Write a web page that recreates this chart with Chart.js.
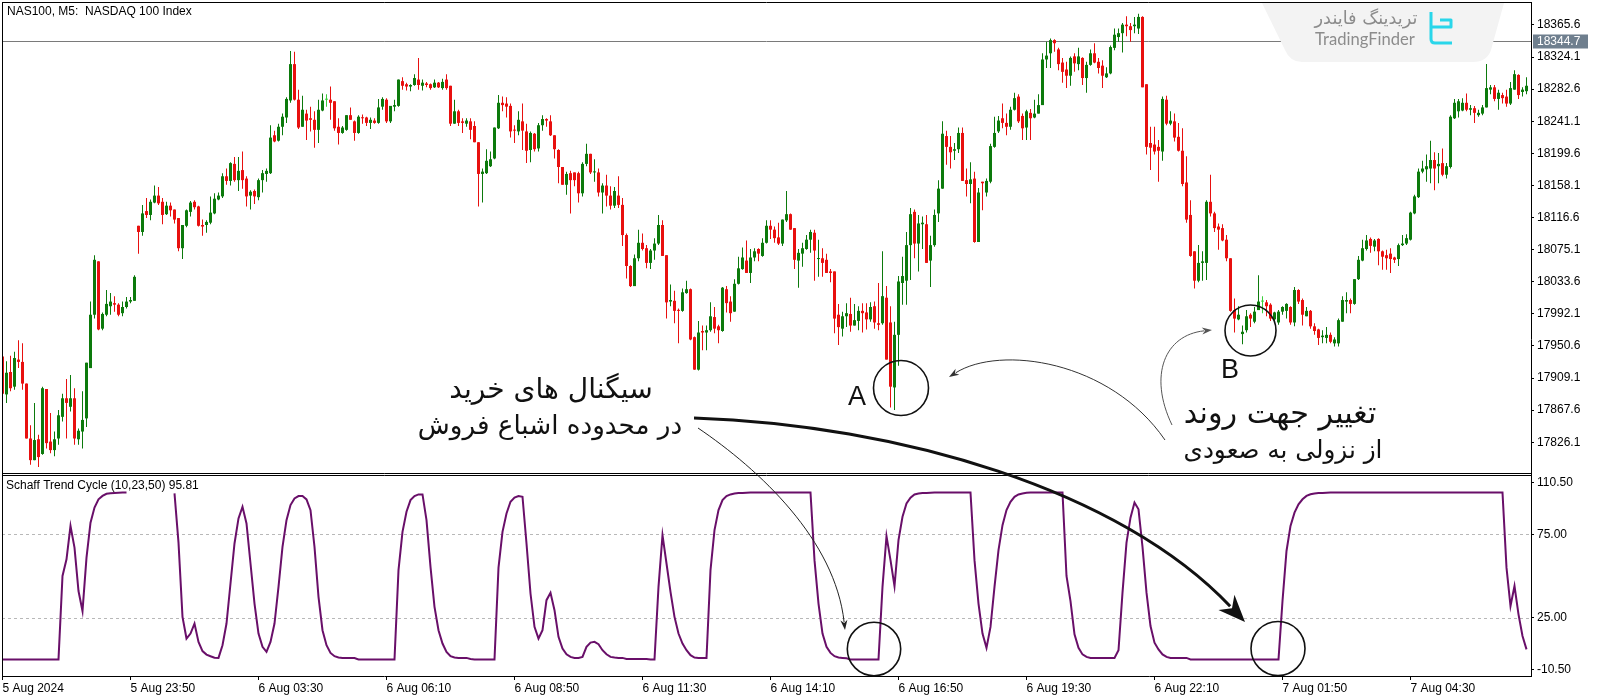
<!DOCTYPE html>
<html>
<head>
<meta charset="utf-8">
<script src="https://cdn.jsdelivr.net/npm/chart.js@4.4.1/dist/chart.umd.min.js"></script>
<style>
  html, body { margin: 0; padding: 0; background: #fff; }
  #wrap { position: relative; width: 1600px; height: 700px; }
</style>
</head>
<body>
<div id="wrap"><canvas id="chart" width="1600" height="700"></canvas></div>
<script>
// NAS100 M5 candles, one entry per bar
const opens = [
  17937,17888,17917,17898,17933,17930,17902,17831,17803,17830,
  17811,17895,17827,17816,17831,17859,17883,17872,17883,17830,
  17840,17857,17922,17991,18060,17973,17991,18002,18006,18004,
  17993,18001,18008,18009,18106,18098,18125,18120,18136,18145,
  18137,18121,18132,18127,18116,18077,18106,18124,18137,18131,
  18107,18107,18110,18122,18140,18144,18170,18164,18186,18165,
  18178,18167,18145,18151,18143,18165,18173,18174,18223,18216,
  18234,18246,18268,18315,18269,18234,18251,18245,18243,18230,
  18255,18269,18269,18267,18234,18226,18230,18249,18241,18226,
  18246,18246,18239,18242,18239,18260,18269,18241,18260,18261,
  18293,18289,18286,18288,18295,18287,18290,18289,18285,18291,
  18284,18295,18287,18238,18254,18241,18238,18241,18235,18214,
  18173,18174,18183,18193,18232,18265,18264,18261,18230,18228,
  18241,18228,18204,18225,18206,18236,18244,18241,18223,18204,
  18182,18159,18174,18175,18174,18148,18186,18199,18175,18175,
  18149,18158,18145,18132,18145,18133,18094,18054,18028,18064,
  18084,18077,18058,18074,18083,18107,18068,18008,18009,17997,
  17996,18019,18024,17962,17920,17970,17968,17971,17988,17976,
  17970,18024,18008,17995,18031,18050,18061,18045,18065,18076,
  18067,18084,18106,18101,18091,18083,18113,18121,18103,18061,
  18070,18076,18088,18097,18063,18064,18062,18047,18047,17991,
  17973,17989,17992,17977,17983,17996,17994,17985,18002,17980,
  17980,18013,17981,17897,17965,18032,18035,18081,18124,18083,
  18108,18108,18061,18081,18122,18154,18222,18208,18203,18205,
  18226,18165,18160,18167,18085,18163,18149,18163,18208,18228,
  18245,18239,18234,18256,18273,18248,18233,18252,18246,18251,
  18262,18321,18329,18346,18334,18317,18308,18300,18325,18315,
  18323,18297,18314,18329,18318,18313,18298,18303,18336,18350,
  18355,18366,18364,18364,18361,18376,18289,18213,18211,18208,
  18202,18269,18238,18241,18221,18203,18162,18120,18073,18035,
  18058,18058,18137,18122,18105,18103,18088,18064,17997,17985,
  17966,17971,17991,17982,17997,18008,18007,18004,17985,17981,
  17995,17996,18001,17981,18023,18010,17989,17996,17976,17972,
  17962,17961,17965,17954,17954,17982,18008,18010,18005,18037,
  18061,18076,18089,18079,18089,18073,18068,18070,18065,18063,
  18081,18083,18088,18122,18143,18176,18179,18180,18191,18183,
  18187,18172,18182,18245,18254,18255,18265,18256,18258,18249,
  18251,18259,18282,18285,18270,18275,18273,18264,18282,18301,
  18279,18280
];
const highs = [
  17938,17931,17938,17943,17958,17954,17902,17848,17877,17836,
  17898,17895,17864,17840,17868,17889,17908,17913,17896,17844,
  17892,17929,18008,18068,18060,17994,18023,18019,18015,18006,
  18008,18014,18014,18042,18106,18133,18142,18140,18158,18156,
  18142,18137,18136,18127,18116,18107,18127,18138,18139,18132,
  18114,18113,18144,18148,18149,18174,18180,18188,18195,18195,
  18202,18170,18152,18153,18167,18178,18180,18236,18229,18238,
  18251,18272,18332,18331,18282,18274,18256,18260,18254,18269,
  18277,18276,18286,18267,18245,18235,18249,18259,18242,18249,
  18250,18247,18246,18245,18270,18272,18271,18261,18269,18295,
  18298,18291,18289,18302,18323,18295,18292,18290,18295,18292,
  18296,18302,18287,18269,18256,18245,18245,18245,18241,18214,
  18180,18205,18202,18233,18275,18273,18272,18264,18236,18254,
  18264,18238,18228,18226,18239,18249,18245,18249,18223,18205,
  18182,18176,18177,18175,18176,18188,18212,18199,18192,18180,
  18161,18172,18157,18156,18170,18142,18096,18055,18069,18101,
  18096,18081,18076,18090,18120,18113,18068,18030,18022,17999,
  18025,18035,18025,17963,17983,17977,17977,18007,18001,17978,
  18027,18028,18015,18037,18066,18078,18087,18076,18077,18077,
  18090,18113,18113,18105,18110,18114,18151,18122,18103,18076,
  18084,18094,18101,18101,18088,18077,18070,18050,18047,18005,
  17995,18006,18013,18005,18002,18006,18006,18007,18008,18032,
  18073,18028,18002,17982,18041,18066,18098,18129,18127,18120,
  18118,18120,18093,18127,18165,18241,18229,18222,18213,18233,
  18233,18180,18188,18176,18155,18163,18167,18212,18247,18248,
  18264,18251,18260,18278,18276,18251,18256,18257,18269,18276,
  18329,18344,18348,18347,18336,18323,18318,18325,18329,18336,
  18324,18318,18334,18342,18323,18320,18311,18339,18361,18361,
  18368,18377,18368,18376,18380,18377,18289,18234,18234,18217,
  18273,18274,18254,18251,18239,18232,18196,18139,18073,18081,
  18073,18139,18172,18124,18109,18108,18094,18064,18012,18002,
  17977,17997,17993,18001,18042,18015,18010,18006,17995,17997,
  18002,18006,18002,18027,18024,18012,18001,17997,17980,17973,
  17971,17975,17968,17962,17986,18015,18020,18012,18037,18067,
  18088,18094,18091,18089,18090,18074,18075,18077,18066,18083,
  18094,18095,18124,18146,18180,18190,18198,18216,18201,18200,
  18206,18187,18249,18270,18270,18271,18277,18262,18261,18256,
  18262,18315,18288,18288,18282,18278,18282,18292,18307,18302,
  18285,18298
];
const lows = [
  17887,17877,17892,17894,17922,17894,17831,17797,17803,17794,
  17810,17818,17812,17808,17823,17853,17831,17866,17823,17823,
  17818,17846,17922,17986,17971,17971,17989,17991,17995,17989,
  17989,17999,18006,18009,18070,18093,18116,18113,18135,18133,
  18108,18120,18118,18109,18073,18063,18104,18118,18127,18105,
  18093,18097,18108,18121,18139,18142,18159,18158,18163,18151,
  18154,18131,18127,18134,18139,18149,18163,18173,18214,18215,
  18223,18239,18265,18268,18231,18234,18217,18228,18207,18213,
  18254,18260,18243,18229,18211,18225,18229,18243,18216,18225,
  18238,18235,18231,18238,18238,18256,18239,18239,18254,18260,
  18282,18281,18280,18287,18282,18281,18285,18282,18284,18284,
  18282,18282,18235,18238,18235,18226,18234,18218,18214,18131,
  18136,18173,18182,18192,18231,18254,18246,18220,18213,18223,
  18204,18187,18188,18202,18202,18229,18234,18222,18193,18161,
  18159,18146,18122,18157,18136,18144,18183,18173,18163,18144,
  18122,18131,18127,18129,18129,18080,18038,18027,18028,18060,
  18074,18051,18050,18062,18081,18067,17986,18002,17980,17954,
  17995,18018,17958,17920,17919,17945,17945,17969,17967,17954,
  17969,17994,17982,17995,18030,18049,18045,18032,18060,18060,
  18066,18083,18089,18084,18081,18080,18111,18101,18050,18026,
  18053,18075,18071,18035,18040,18040,18045,18033,17967,17952,
  17963,17975,17969,17977,17971,17968,17972,17982,17973,17971,
  17978,17933,17871,17868,17925,18004,18004,18036,18064,18047,
  18076,18058,18027,18079,18111,18154,18185,18180,18191,18200,
  18164,18144,18135,18084,18085,18126,18144,18161,18207,18226,
  18232,18223,18230,18255,18239,18217,18217,18217,18245,18251,
  18262,18310,18310,18331,18307,18291,18284,18287,18305,18307,
  18288,18278,18313,18316,18303,18284,18297,18302,18333,18344,
  18330,18351,18344,18355,18354,18285,18198,18178,18198,18163,
  18190,18236,18236,18215,18202,18157,18110,18066,18025,18033,
  18035,18036,18118,18098,18075,18086,18060,17995,17968,17984,
  17953,17968,17975,17980,17997,17993,17989,17983,17983,17978,
  17991,17986,17978,17976,18005,17977,17989,17973,17965,17952,
  17954,17954,17954,17950,17950,17982,17993,17993,18004,18036,
  18060,18074,18071,18073,18055,18049,18049,18045,18058,18054,
  18080,18081,18087,18121,18142,18174,18163,18161,18152,18161,
  18170,18167,18180,18244,18246,18254,18254,18249,18239,18247,
  18249,18259,18276,18267,18256,18264,18260,18262,18282,18270,
  18273,18276
];
const closes = [
  17889,17916,17896,17935,17930,17902,17831,17803,17829,17807,
  17896,17825,17816,17830,17861,17883,17877,17883,17831,17841,
  17855,17929,17991,18062,17972,17992,18005,18008,18004,17991,
  18001,18008,18010,18040,18098,18122,18120,18137,18145,18135,
  18120,18132,18126,18114,18077,18107,18126,18136,18130,18106,
  18105,18111,18123,18141,18145,18170,18164,18187,18165,18177,
  18165,18144,18150,18144,18165,18174,18177,18220,18215,18234,
  18247,18270,18315,18269,18233,18256,18242,18243,18230,18256,
  18268,18269,18265,18232,18226,18233,18249,18243,18226,18247,
  18245,18239,18243,18239,18259,18270,18241,18261,18262,18295,
  18287,18286,18288,18297,18288,18291,18288,18284,18291,18285,
  18292,18284,18238,18254,18239,18239,18242,18230,18214,18173,
  18176,18190,18192,18233,18265,18262,18260,18228,18229,18243,
  18229,18203,18226,18205,18236,18244,18242,18223,18205,18182,
  18159,18173,18165,18165,18148,18186,18199,18175,18176,18149,
  18158,18145,18132,18151,18133,18094,18054,18028,18064,18084,
  18076,18058,18074,18083,18107,18067,18007,18010,17996,17996,
  18020,18024,17959,17920,17968,17968,17971,17989,17973,17971,
  18026,18006,17993,18031,18051,18065,18045,18065,18073,18070,
  18084,18106,18101,18090,18083,18114,18121,18101,18062,18071,
  18077,18088,18098,18074,18064,18058,18045,18045,17986,17975,
  17989,17993,17977,17984,17996,17993,17985,18001,17981,17978,
  18015,17933,17898,17965,18034,18041,18081,18121,18083,18109,
  18110,18058,18081,18120,18154,18225,18208,18201,18205,18226,
  18164,18160,18166,18085,18149,18161,18164,18209,18226,18242,
  18239,18234,18256,18271,18241,18232,18254,18245,18251,18262,
  18321,18326,18346,18342,18315,18305,18300,18323,18316,18325,
  18297,18314,18329,18317,18310,18300,18303,18337,18353,18355,
  18366,18364,18359,18366,18376,18285,18208,18207,18202,18203,
  18270,18238,18242,18220,18203,18160,18114,18067,18035,18058,
  18060,18137,18122,18103,18101,18087,18064,17996,17986,17991,
  17969,17989,17986,17995,18008,18008,18002,17986,17994,17995,
  18001,18005,17981,18023,18008,17991,17996,17976,17970,17961,
  17964,17965,17956,17959,17984,18010,18010,18005,18037,18062,
  18077,18087,18080,18087,18073,18066,18064,18063,18062,18081,
  18083,18090,18123,18144,18176,18180,18183,18191,18180,18186,
  18172,18183,18247,18265,18267,18265,18256,18258,18252,18252,
  18259,18284,18285,18270,18278,18271,18264,18284,18302,18275,
  18282,18287
];
// Schaff Trend Cycle (10,23,50), null where the line has a gap
const stc = [
  0,0,0,0,0,0,0,0,0,0,
  0,0,0,0,0,50,60,80,67,41,
  29,61,82,91,96,98,99.3,99.6,99.8,99.9,
  100,100,null,null,null,null,null,null,null,null,
  null,null,null,99.5,70,25.5,12.5,15.5,21.5,10.5,
  5,2.9,1.9,1,0.9,8.5,21.5,45.5,69.5,84.5,
  91.5,81.5,57.5,33.5,15.5,7.5,4.5,10.5,21.5,43.5,
  67.5,83.5,92.5,96.5,97.9,97.9,95.9,89.5,67.5,37.5,
  17.5,8.5,3.9,1.9,1.1,0.8,0.8,0.8,0.8,0,
  0,0,0,0,0,0,0,0,0,53.5,
  76.5,88.5,95.5,97.9,98.9,98.9,83.5,55.5,31.5,17.5,
  9.5,4.5,1.9,1.1,0.9,0.9,0.9,0.2,0,0,
  0,0,0,0,55,76.5,87.5,94.5,97,97.9,
  97.5,69.5,39.5,19.5,12.5,17.5,35.5,39.9,29.5,13.5,
  6.5,3.1,1.5,0.9,0.9,1.5,7.5,10.1,10.5,9.1,
  5.5,3.1,1.5,1.1,0.9,0.9,0.3,0.3,0.3,0.3,
  0.3,0.3,0,0,43.5,74.5,57.5,40.5,25.5,15.5,
  9.5,5.5,2.5,1.1,0.9,0.9,0.9,53.5,77.5,89.5,
  95.5,97.9,98.9,99.5,99.7,99.8,99.9,100,100,100,
  100,100,100,100,100,100,100,100,100,100,
  100,100,100,59.5,33.5,15.5,7.5,3.9,1.9,1.1,
  0.9,0.7,0,0,0,0,0,0,0,0,
  43.5,73.9,59.5,43.9,71.5,85.5,93.5,97,98.9,99.5,
  99.7,99.8,99.9,100,100,100,100,100,100,100,
  100,100,100,59.5,33.5,15.5,6.9,19.5,43.5,65.5,
  80.5,89.5,94.5,97.5,98.9,99.5,99.9,100,100,100,
  100,100,100,100,100,100,50,35,15,7,
  3,1.5,0.9,0.9,0.9,0.9,0.9,0.9,0.9,5.5,
  40,70,85,94,90,67.5,40,20,10,6,
  3,1.5,0.9,0.9,0.9,0.9,0.9,0,0,0,
  0,0,0,0,0,0,0,0,0,0,
  0,0,0,0,0,0,0,0,0,0,
  35,65,80,88,93,96,98,99,99.5,99.7,
  99.8,99.9,100,100,100,100,100,100,100,100,
  100,100,100,100,100,100,100,100,100,100,
  100,100,100,100,100,100,100,100,100,100,
  100,100,100,100,100,100,100,100,100,100,
  100,100,100,100,100,100,55,32,44,27,
  14,6
];

const priceTicks = [18365.6, 18324.1, 18282.6, 18241.1, 18199.6, 18158.1, 18116.6,
                    18075.1, 18033.6, 17992.1, 17950.6, 17909.1, 17867.6, 17826.1];
// MT5 pulls the two edge labels of the indicator scale inside the window
const stcTickValues = [105.9, 75, 25, -5.9];
const stcTickLabels = ['110.50', '75.00', '25.00', '-10.50'];
const stcLevels = [75, 25];
const timeTickBars = [0, 32, 64, 96, 128, 160, 192, 224, 256, 288, 320, 352];
const timeLabels = ['5 Aug 2024', '5 Aug 23:50', '6 Aug 03:30', '6 Aug 06:10', '6 Aug 08:50', '6 Aug 11:30',
                    '6 Aug 14:10', '6 Aug 16:50', '6 Aug 19:30', '6 Aug 22:10', '7 Aug 01:50', '7 Aug 04:30'];
const lastPrice = 18344.7;
const symbolTitle = 'NAS100, M5:  NASDAQ 100 Index';
const stcTitle = 'Schaff Trend Cycle (10,23,50) 95.81';

const UP = '#0c7a0c', DOWN = '#e8100f', DOJI = '#3ccf3c';
const FONT = "'Liberation Sans', Arial, sans-serif";
const FA_FONT = "'DejaVu Sans', sans-serif";

const candleColors = opens.map((o, i) => closes[i] > o ? UP : (closes[i] < o ? DOWN : DOJI));
const wickData = lows.map((l, i) => ({ x: i, y: [l, highs[i]] }));
const bodyData = opens.map((o, i) => ({ x: i, y: [o, closes[i]] }));
const stcData = stc.map((v, i) => ({ x: i, y: v }));

// font size that makes a string span the given width
function fitFont(ctx, text, family, width, base) {
  ctx.font = base + 'px ' + family;
  const w = ctx.measureText(text).width;
  return Math.round(base * width / w * 10) / 10;
}

function arrow(ctx, p, lw, headLen, headW, color) {
  const [p0, p1, p2, p3] = p;
  const ang = Math.atan2(p3[1] - p2[1], p3[0] - p2[0]);
  const bx = p3[0] - Math.cos(ang) * headLen * 0.8;
  const by = p3[1] - Math.sin(ang) * headLen * 0.8;
  ctx.save();
  ctx.strokeStyle = color; ctx.fillStyle = color; ctx.lineWidth = lw;
  ctx.beginPath();
  ctx.moveTo(p0[0], p0[1]);
  ctx.bezierCurveTo(p1[0], p1[1], p2[0], p2[1], bx, by);
  ctx.stroke();
  ctx.beginPath();
  ctx.moveTo(p3[0], p3[1]);
  ctx.lineTo(p3[0] - Math.cos(ang) * headLen + Math.sin(ang) * headW / 2,
             p3[1] - Math.sin(ang) * headLen - Math.cos(ang) * headW / 2);
  ctx.lineTo(p3[0] - Math.cos(ang) * headLen * 0.7, p3[1] - Math.sin(ang) * headLen * 0.7);
  ctx.lineTo(p3[0] - Math.cos(ang) * headLen - Math.sin(ang) * headW / 2,
             p3[1] - Math.sin(ang) * headLen + Math.cos(ang) * headW / 2);
  ctx.closePath();
  ctx.fill();
  ctx.restore();
}

// MT5 window furniture plus the hand-drawn notes of the screenshot
const mt5Frame = {
  id: 'mt5Frame',
  beforeDatasetsDraw(chart) {
    const { ctx, chartArea: a, scales } = chart;
    ctx.save();
    ctx.strokeStyle = '#b8b8b8'; ctx.lineWidth = 1; ctx.setLineDash([3, 3]);
    stcLevels.forEach(v => {
      const y = Math.round(scales.y2.getPixelForValue(v)) + 0.5;
      ctx.beginPath(); ctx.moveTo(a.left, y); ctx.lineTo(a.right, y); ctx.stroke();
    });
    ctx.setLineDash([]);
    const ly = Math.round(scales.y.getPixelForValue(lastPrice)) + 0.5;
    ctx.strokeStyle = '#7a7a7a';
    ctx.beginPath(); ctx.moveTo(a.left, ly); ctx.lineTo(a.right, ly); ctx.stroke();
    ctx.restore();
  },
  afterDraw(chart) {
    const { ctx, chartArea: a, scales } = chart;
    ctx.save();
    const sep = Math.round(scales.y.bottom);
    ctx.strokeStyle = '#000'; ctx.lineWidth = 1;
    ctx.beginPath();
    ctx.moveTo(a.left, a.top + 0.5); ctx.lineTo(a.right, a.top + 0.5);
    ctx.moveTo(a.left + 0.5, a.top); ctx.lineTo(a.left + 0.5, a.bottom);
    ctx.moveTo(a.right + 0.5, a.top); ctx.lineTo(a.right + 0.5, a.bottom + 1);
    ctx.moveTo(a.left, sep - 0.5); ctx.lineTo(a.right, sep - 0.5);
    ctx.moveTo(a.left, sep + 1.5); ctx.lineTo(a.right, sep + 1.5);
    ctx.moveTo(a.left, a.bottom + 0.5); ctx.lineTo(a.right + 1, a.bottom + 0.5);
    ctx.stroke();

    // last price tag
    const ly = Math.round(scales.y.getPixelForValue(lastPrice)) + 0.5;
    ctx.fillStyle = '#6f7f8e';
    ctx.fillRect(a.right + 2, ly - 7, 55, 14);
    ctx.fillStyle = '#fff';
    ctx.font = '12px ' + FONT; ctx.textBaseline = 'middle'; ctx.textAlign = 'left';
    ctx.fillText(lastPrice.toFixed(1), a.right + 6, ly + 0.5);

    // window captions
    ctx.fillStyle = '#000';
    ctx.fillText(symbolTitle, a.left + 5, a.top + 10);
    ctx.fillText(stcTitle, a.left + 4, sep + 12);

    // TradingFinder badge
    ctx.fillStyle = '#f3f3f3';
    ctx.beginPath();
    ctx.moveTo(1262, 3); ctx.lineTo(1504, 3); ctx.lineTo(1491, 50);
    ctx.quadraticCurveTo(1487, 62, 1473, 62); ctx.lineTo(1302, 62);
    ctx.quadraticCurveTo(1290, 62, 1285, 50); ctx.closePath(); ctx.fill();
    ctx.fillStyle = '#8c8c8c'; ctx.textAlign = 'center';
    ctx.direction = 'rtl';
    ctx.font = fitFont(ctx, 'تریدینگ فایندر', FA_FONT, 103, 16) + 'px ' + FA_FONT;
    ctx.fillText('تریدینگ فایندر', 1366, 19);
    ctx.direction = 'ltr';
    ctx.font = fitFont(ctx, 'TradingFinder', "Lato, sans-serif", 100, 16) + 'px Lato, sans-serif';
    ctx.fillText('TradingFinder', 1365, 40);
    ctx.strokeStyle = '#29d6ea'; ctx.lineWidth = 3; ctx.lineJoin = 'round';
    ctx.beginPath();
    ctx.moveTo(1431, 12); ctx.lineTo(1431, 39); ctx.quadraticCurveTo(1431, 43, 1435, 43); ctx.lineTo(1452, 43);
    ctx.moveTo(1431, 27); ctx.lineTo(1451, 27); ctx.lineTo(1451, 20); ctx.lineTo(1440, 20);
    ctx.stroke();

    // notes
    ctx.fillStyle = '#111'; ctx.textAlign = 'center'; ctx.textBaseline = 'middle';
    ctx.direction = 'rtl';
    [['سیگنال های خرید', 551, 391, 204], ['در محدوده اشباع فروش', 550, 427, 264],
     ['تغییر جهت روند', 1280, 415, 193], ['از نزولی به صعودی', 1283, 452, 199]].forEach(([t, x, y, w]) => {
      ctx.font = fitFont(ctx, t, FA_FONT, w, 26) + 'px ' + FA_FONT;
      ctx.fillText(t, x, y);
    });
    ctx.direction = 'ltr';
    ctx.font = '27px ' + FONT;
    ctx.fillText('A', 857, 398);
    ctx.fillText('B', 1230, 371);

    ctx.strokeStyle = '#111'; ctx.lineWidth = 1.6;
    [[901, 388, 27.5], [1250.5, 330.5, 25.5], [874, 649, 26.7], [1278, 648.5, 27]].forEach(([x, y, r]) => {
      ctx.beginPath(); ctx.arc(x, y, r, 0, Math.PI * 2); ctx.stroke();
    });

    arrow(ctx, [[694, 418], [900, 425], [1120, 490], [1245, 622]], 3, 27, 22, '#111');
    arrow(ctx, [[698, 428], [760, 470], [835, 540], [845, 630]], 1, 10, 7, '#222');
    arrow(ctx, [[1165, 440], [1110, 360], [1000, 345], [949, 377]], 1, 10, 7, '#333');
    arrow(ctx, [[1172, 425], [1148, 375], [1165, 335], [1212, 330]], 1, 10, 7, '#555');
    ctx.restore();
  }
};

const tickFont = { family: FONT, size: 12 };
// keep the plot area flush with the window frame
const noPad = s => { s.paddingTop = 0; s.paddingBottom = 0; s.paddingLeft = 0; s.paddingRight = 0; };

new Chart(document.getElementById('chart'), {
  type: 'bar',
  data: {
    datasets: [
      { type: 'line', data: stcData, yAxisID: 'y2', borderColor: '#690f69', borderWidth: 2,
        pointRadius: 0, tension: 0, spanGaps: false, order: 0 },
      { data: bodyData, yAxisID: 'y', backgroundColor: candleColors, barThickness: 3,
        minBarLength: 1, grouped: false, inflateAmount: 0, order: 1 },
      { data: wickData, yAxisID: 'y', backgroundColor: candleColors, barThickness: 1,
        grouped: false, inflateAmount: 0, order: 2 }
    ]
  },
  options: {
    responsive: false,
    animation: false,
    devicePixelRatio: 1,
    events: [],
    layout: { padding: { left: 2, top: 2, right: 0, bottom: 0 } },
    plugins: { legend: { display: false }, tooltip: { enabled: false } },
    scales: {
      x: {
        type: 'linear', min: -0.125, max: -0.125 + 1529 / 4, offset: false,
        grid: { drawOnChartArea: false, drawTicks: true, tickLength: 4, color: '#000', offset: false },
        border: { display: false },
        afterBuildTicks: s => { s.ticks = timeTickBars.map(v => ({ value: v })); },
        afterFit: s => { s.height = 24; noPad(s); },
        ticks: { autoSkip: false, maxRotation: 0, align: 'start', padding: 1, color: '#000', font: tickFont,
                 callback: v => timeLabels[timeTickBars.indexOf(v)] }
      },
      y: {
        type: 'linear', position: 'right', stack: 'panes', stackWeight: 472,
        min: 17785.1, max: 18395.3,
        grid: { drawOnChartArea: false, tickLength: 3, color: '#000' },
        border: { display: false },
        afterBuildTicks: s => { s.ticks = priceTicks.map(v => ({ value: v })); },
        afterFit: s => { s.width = 69; noPad(s); },
        ticks: { autoSkip: false, padding: 3, color: '#000', font: tickFont, callback: v => v.toFixed(1) }
      },
      y2: {
        type: 'linear', position: 'right', stack: 'panes', stackWeight: 202,
        min: -9.95, max: 111.15,
        grid: { drawOnChartArea: false, tickLength: 3, color: '#000' },
        border: { display: false },
        afterBuildTicks: s => { s.ticks = stcTickValues.map(v => ({ value: v })); },
        afterFit: s => { s.width = 69; noPad(s); },
        ticks: { autoSkip: false, padding: 3, color: '#000', font: tickFont,
                 callback: v => stcTickLabels[stcTickValues.indexOf(v)] }
      }
    }
  },
  plugins: [mt5Frame]
});
</script>
</body>
</html>
